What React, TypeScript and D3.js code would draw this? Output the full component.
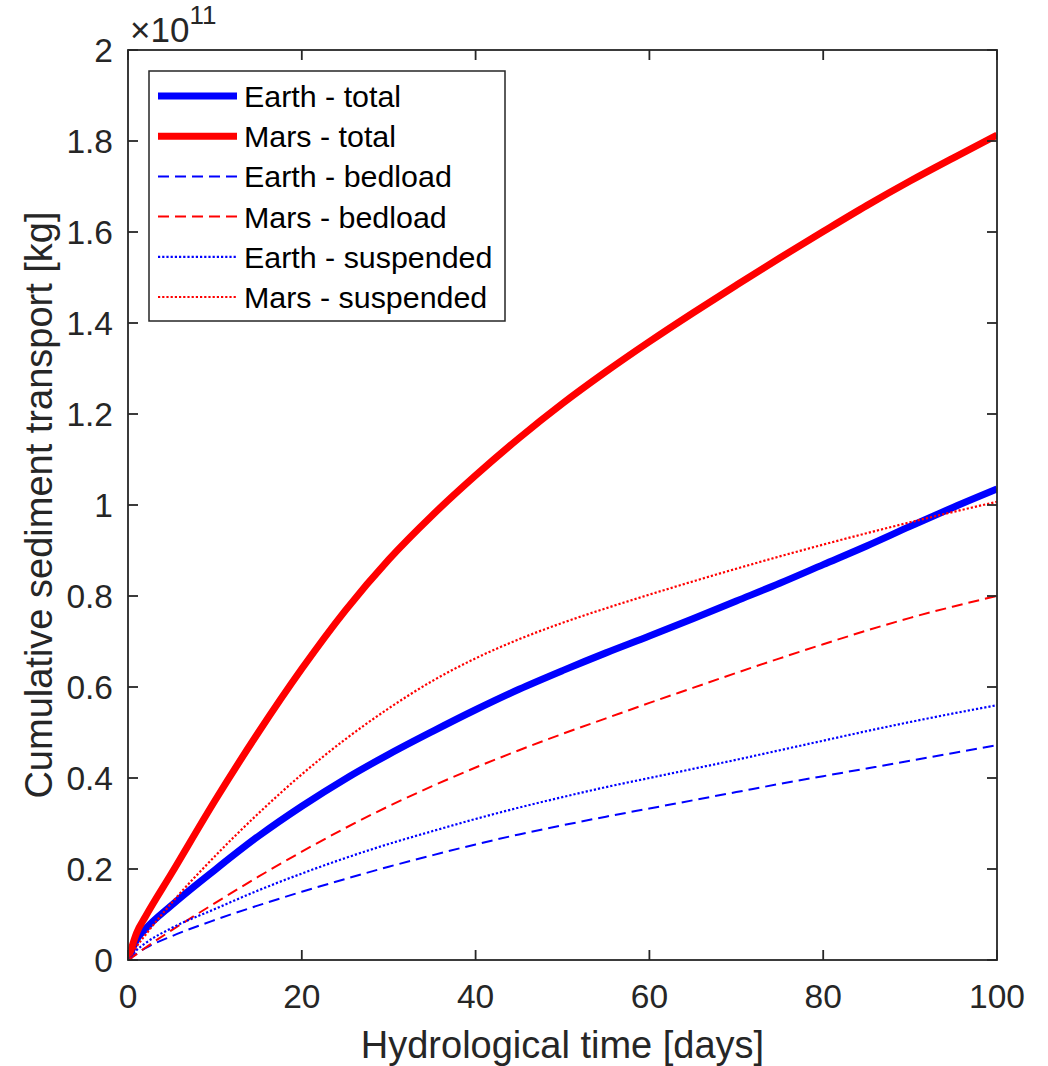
import React from "react";
import * as d3 from "d3";

// Hydrological time (days) at which each cumulative series is sampled
const days = [0, 1, 2, 5, 10, 15, 20, 25, 30, 35, 40, 45, 50, 55, 60, 65, 70, 75, 80, 85, 90, 95, 100];

// Cumulative sediment transport, in units of 1e11 kg
const earthTotal = [0, 0.045, 0.068, 0.12, 0.198, 0.272, 0.338, 0.398, 0.452, 0.502, 0.55, 0.595, 0.636, 0.675, 0.712, 0.75, 0.789, 0.828, 0.869, 0.91, 0.953, 0.995, 1.035];
const marsTotal = [0, 0.06, 0.095, 0.19, 0.35, 0.5, 0.64, 0.768, 0.88, 0.977, 1.065, 1.147, 1.223, 1.293, 1.359, 1.422, 1.483, 1.543, 1.601, 1.658, 1.712, 1.763, 1.813];
const earthBedload = [0, 0.014, 0.026, 0.052, 0.088, 0.12, 0.15, 0.178, 0.205, 0.23, 0.254, 0.276, 0.296, 0.315, 0.333, 0.351, 0.369, 0.387, 0.404, 0.421, 0.438, 0.455, 0.472];
const marsBedload = [0, 0.013, 0.027, 0.065, 0.125, 0.183, 0.238, 0.29, 0.338, 0.382, 0.423, 0.461, 0.497, 0.531, 0.565, 0.598, 0.631, 0.663, 0.694, 0.724, 0.752, 0.777, 0.8];
const earthSuspended = [0, 0.022, 0.037, 0.07, 0.112, 0.153, 0.19, 0.224, 0.255, 0.283, 0.31, 0.335, 0.358, 0.38, 0.4, 0.42, 0.44, 0.461, 0.482, 0.503, 0.523, 0.542, 0.56];
const marsSuspended = [0, 0.03, 0.055, 0.125, 0.228, 0.322, 0.408, 0.485, 0.553, 0.613, 0.663, 0.705, 0.741, 0.773, 0.803, 0.832, 0.86, 0.887, 0.913, 0.938, 0.962, 0.985, 1.007];

const xTicks = [0, 20, 40, 60, 80, 100];
const yTicks = [0, 0.2, 0.4, 0.6, 0.8, 1, 1.2, 1.4, 1.6, 1.8, 2];

const seriesNames = ["Earth - total", "Mars - total", "Earth - bedload", "Mars - bedload", "Earth - suspended", "Mars - suspended"];
const seriesValues = [earthTotal, marsTotal, earthBedload, marsBedload, earthSuspended, marsSuspended];
const seriesColors = ["#0000ff", "#ff0000", "#0000ff", "#ff0000", "#0000ff", "#ff0000"];
const seriesWidths = [7, 7, 2, 2, 2.2, 2.2];
const seriesDash = ["", "", "11 6", "11 6", "2.2 2", "2.2 2"];

const W = 1048;
const H = 1066;
const M = { left: 128, right: 997, top: 50, bottom: 960 };
const FONT = "'Liberation Sans', Arial, Helvetica, sans-serif";
const INK = "#262626";

export default function App() {
  const x = d3.scaleLinear().domain([0, 100]).range([M.left, M.right]);
  const y = d3.scaleLinear().domain([0, 2]).range([M.bottom, M.top]);
  const line = d3
    .line<[number, number]>()
    .x((d) => x(d[0]))
    .y((d) => y(d[1]))
    .curve(d3.curveMonotoneX);

  const tickLen = 10;
  const legend = { x: 149, y: 71, w: 356, h: 250, row0: 96, rowGap: 40.2 };

  return (
    <svg
      width={W}
      height={H}
      viewBox={`0 0 ${W} ${H}`}
      style={{ position: "absolute", left: 0, top: 0, background: "#fff" }}
      fontFamily={FONT}
    >
      <defs>
        <clipPath id="plot-clip">
          <rect x={M.left} y={M.top} width={M.right - M.left} height={M.bottom - M.top} />
        </clipPath>
      </defs>

      <rect x={0} y={0} width={W} height={H} fill="#fff" />

      {/* series */}
      <g clipPath="url(#plot-clip)">
        {seriesValues.map((vals, i) => (
          <path
            key={seriesNames[i]}
            d={line(days.map((t, k) => [t, vals[k]] as [number, number])) || ""}
            fill="none"
            stroke={seriesColors[i]}
            strokeWidth={seriesWidths[i]}
            strokeDasharray={seriesDash[i] || undefined}
            strokeLinejoin="round"
          />
        ))}
      </g>

      {/* axes box and inward ticks */}
      <g stroke={INK} strokeWidth={1.8} fill="none">
        <rect x={M.left} y={M.top} width={M.right - M.left} height={M.bottom - M.top} />
        {xTicks.map((t) => (
          <g key={"xt" + t}>
            <line x1={x(t)} x2={x(t)} y1={M.bottom} y2={M.bottom - tickLen} />
            <line x1={x(t)} x2={x(t)} y1={M.top} y2={M.top + tickLen} />
          </g>
        ))}
        {yTicks.map((t) => (
          <g key={"yt" + t}>
            <line x1={M.left} x2={M.left + tickLen} y1={y(t)} y2={y(t)} />
            <line x1={M.right} x2={M.right - tickLen} y1={y(t)} y2={y(t)} />
          </g>
        ))}
      </g>

      {/* tick labels */}
      <g fill={INK} fontSize={33.5}>
        {xTicks.map((t) => (
          <text key={"xl" + t} x={x(t)} y={1008} textAnchor="middle">
            {String(t)}
          </text>
        ))}
        {yTicks.map((t) => (
          <text key={"yl" + t} x={113} y={y(t) + 12} textAnchor="end">
            {String(t)}
          </text>
        ))}
      </g>

      {/* exponent */}
      <text x={130} y={42} fill={INK} fontSize={35}>
        ×10
        <tspan dy={-18} fontSize={26}>
          11
        </tspan>
      </text>

      {/* axis titles */}
      <text x={(M.left + M.right) / 2} y={1058} textAnchor="middle" fontSize={38} fill={INK}>
        Hydrological time [days]
      </text>
      <text
        transform={`translate(52, ${(M.top + M.bottom) / 2}) rotate(-90)`}
        textAnchor="middle"
        fontSize={38}
        fill={INK}
      >
        Cumulative sediment transport [kg]
      </text>

      {/* legend */}
      <g>
        <rect x={legend.x} y={legend.y} width={legend.w} height={legend.h} fill="#fff" stroke={INK} strokeWidth={1.5} />
        {seriesNames.map((name, i) => {
          const cy = legend.row0 + i * legend.rowGap;
          return (
            <g key={"lg" + name}>
              <line
                x1={158}
                x2={237}
                y1={cy}
                y2={cy}
                stroke={seriesColors[i]}
                strokeWidth={seriesWidths[i]}
                strokeDasharray={seriesDash[i] || undefined}
              />
              <text x={244} y={cy + 11} fontSize={30.4} fill="#000">
                {name}
              </text>
            </g>
          );
        })}
      </g>
    </svg>
  );
}
